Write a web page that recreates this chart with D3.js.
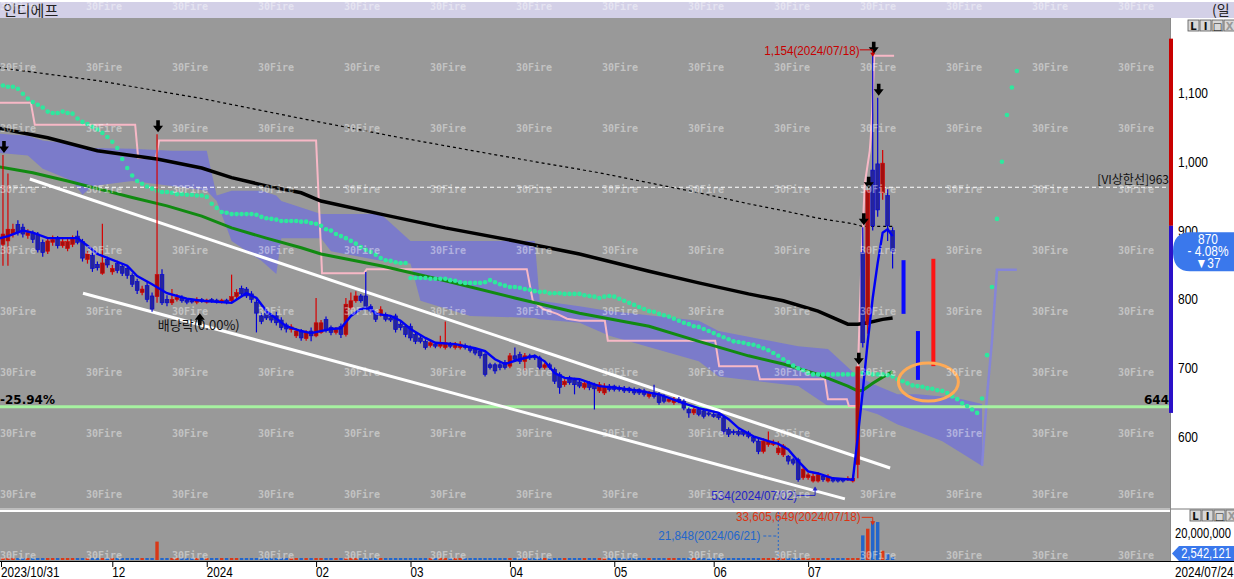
<!DOCTYPE html>
<html><head><meta charset="utf-8">
<script src="https://cdn.jsdelivr.net/npm/d3@7/dist/d3.min.js"></script>
<style>html,body{margin:0;padding:0;background:#fff;overflow:hidden}svg{display:block}</style>
</head><body>
<svg id="c" width="1234" height="579"></svg>
<script>
// ---------------- DATA ----------------
const title = "인디에프";
const tickIdx = [0,23,42,64,83,103,124,144,163];
const tickLab = ["2023/10/31","12","2024","02","03","04","05","06","07"];
const lastDateLabel = "2024/07/24";
const priceTicks = [1100,1000,900,800,700,600];

const opens = [892,880,885,895,909,905,893,897,895,883,870,883,888,878,874,880,892,884,858,864,851,838,858,840,852,848,845,835,826,810,820,805,804,836,800,795,800,803,799,798,796,800,796,800,799,796,799,798,804,816,815,808,796,776,780,776,776,770,763,756,747,754,743,754,747,752,771,759,752,761,749,788,798,805,805,790,780,778,778,773,776,764,761,761,749,744,739,733,735,732,730,735,730,730,733,730,727,725,720,705,705,705,708,703,718,720,710,718,718,715,701,705,698,691,676,686,683,680,672,678,676,667,664,674,674,672,671,671,669,669,667,659,664,662,659,652,650,655,652,640,635,640,638,635,633,633,628,611,608,608,608,606,599,594,579,589,589,577,574,572,567,567,541,541,536,536,543,536,538,538,538,538,536,560,868,764,988,997,955,951,900];
const highs = [900,1010,983,910,915,910,902,900,898,887,890,893,892,890,889,893,900,888,870,868,855,910,862,850,856,852,848,838,830,820,825,810,1040,844,806,815,808,806,802,801,803,802,801,802,801,801,801,836,815,820,818,812,800,780,785,780,782,774,766,764,758,757,755,759,802,770,775,762,760,765,802,810,812,808,840,793,783,790,781,776,779,767,764,765,752,747,742,740,738,747,768,738,738,739,736,733,730,728,723,708,708,710,712,722,730,724,722,721,720,718,708,708,701,694,684,689,686,683,681,681,679,680,678,677,676,675,674,673,672,671,670,667,676,665,662,658,658,658,655,643,643,643,640,637,636,636,631,614,611,611,610,609,602,597,598,608,596,594,590,574,570,570,556,548,548,549,546,546,541,540,540,543,545,702,905,958,1154,1093,1017,960,905];
const lows = [870,849,849,890,893,890,888,882,868,862,866,878,874,875,870,876,880,855,852,840,842,836,846,836,838,834,830,818,808,806,796,782,795,792,790,792,797,795,793,794,793,795,794,795,794,794,793,795,800,805,802,795,752,764,770,766,762,755,752,752,744,740,740,739,745,750,752,748,749,744,746,785,795,795,786,780,767,775,768,767,752,755,745,740,735,736,727,730,729,729,727,729,727,727,727,723,719,714,688,698,692,697,698,700,710,706,697,712,712,698,698,698,677,663,673,676,662,671,669,668,640,664,661,666,666,666,664,664,661,661,659,656,656,647,649,650,647,649,639,628,632,630,627,630,628,625,604,600,603,601,601,598,591,575,576,586,587,574,571,560,559,535,538,538,534,534,535,534,534,534,534,536,534,540,730,750,900,920,945,885,845];
const closes = [876,895,902,902,897,895,897,887,872,868,885,887,878,884,884,888,883,860,866,845,846,853,850,845,842,838,835,822,813,815,800,786,836,795,795,800,803,798,796,797,799,797,799,797,796,799,795,804,810,808,805,800,780,768,773,770,766,759,757,760,754,744,752,747,766,766,756,752,756,749,793,798,805,798,790,783,771,785,771,770,756,759,749,744,739,739,730,737,732,737,737,732,735,735,730,726,722,718,691,701,696,701,701,718,713,710,718,715,715,701,705,701,681,672,681,679,676,674,678,672,670,676,674,669,669,669,667,667,664,664,662,664,659,650,652,655,655,652,642,635,640,633,630,633,630,628,608,604,606,604,604,601,594,579,594,594,591,584,587,565,562,538,553,545,543,545,538,543,536,536,536,540,540,702,737,958,907,930,998,907,870];
const volumes = [600000,900000,1200000,500000,400000,350000,300000,280000,400000,350000,300000,250000,220000,260000,240000,210000,230000,380000,300000,350000,250000,900000,260000,220000,200000,210000,230000,300000,320000,250000,380000,450000,16000000,1600000,500000,400000,300000,250000,200000,180000,170000,160000,150000,170000,160000,150000,140000,600000,350000,300000,250000,220000,500000,300000,250000,200000,220000,260000,200000,180000,190000,200000,180000,210000,700000,400000,300000,220000,200000,210000,900000,500000,400000,300000,600000,300000,250000,280000,220000,200000,300000,220000,240000,260000,230000,200000,250000,180000,170000,200000,450000,180000,170000,160000,150000,170000,180000,200000,400000,250000,200000,180000,170000,350000,300000,220000,250000,180000,160000,220000,170000,160000,300000,350000,220000,180000,260000,170000,160000,150000,280000,200000,200000,150000,130000,120000,110000,120000,130000,110000,120000,130000,180000,200000,150000,110000,120000,100000,180000,220000,150000,130000,140000,100000,90000,110000,350000,200000,120000,100000,90000,110000,150000,300000,250000,280000,120000,21848,200000,180000,150000,500000,300000,250000,300000,200000,150000,180000,120000,100000,110000,130000,150000,1600000,21400000,27200000,33605649,33000000,8000000,5400000,2542121];

// 5-day average (blue), read at sample days
const ma5Idx = [0,2,5,7,10,16,18,20,26,28,31,34,38,41,47,50,52,54,58,61,63,67,69,71,73,75,76,79,81,83,86,88,92,96,98,100,102,105,108,110,112,114,117,121,125,129,133,138,141,145,147,149,152,155,157,159,161,163,165,168,172,173,174,175,176,177,178,179,180];
const ma5Val = [888,892,900,897,889,889,878,866,849,834,822,809,801,798,795,809,802,783,761,754,751,757,758,776,786,787,779,776,769,757,744,737,735,729,725,713,706,713,718,710,693,686,684,674,671,667,662,649,642,635,626,613,601,594,590,582,565,550,547,540,538,601,667,739,802,853,897,902,892];
// green average
const maGIdx = [0,7,14,20,27,34,41,47,54,61,65,77,90,104,117,131,141,151,158,165,171,173,174,176,178,180];
const maGVal = [993,984,972,961,948,936,921,904,889,875,866,849,827,802,780,761,739,718,706,691,674,667,668,678,687,695];
// black thick average
const maKIdx = [0,10,20,32,41,47,54,61,65,77,90,104,117,131,141,151,158,165,171,173,175,178,180];
const maKVal = [1049,1035,1016,1004,991,977,965,955,943,924,904,885,866,841,824,808,798,783,764,764,766,771,773];
// black dotted average
const maDIdx = [0,20,41,61,81,101,121,141,151,158,165,172,174,180];
const maDVal = [1137,1118,1092,1063,1035,1009,984,955,939,929,918,910,906,906];
// pink stepped line
const pinkIdx = [0.4,6.6,7.4,27.6,28.2,31.8,32.4,64,65.2,73.6,74.2,106.4,107.6,109.7,112.5,114.5,117.1,122.1,122.7,144.3,145.1,152.7,153.3,166.4,167,170.8,171.2,172.8,173.4,173.8,174.4,175.4,175.6,175.9,176.1,176.3,180.3];
const pinkVal = [1086,1086,1054,1054,1006,1006,1031,1031,838,838,844,844,798,786,779,772,769,769,740,740,703,703,684,684,655,655,645,645,783,870,968,1016,1035,1074,1114,1154,1154];
// cyan dots (one per day, runs 25 days ahead)
const dots = [1111,1111,1109,1109,1106,1099,1092,1087,1083,1079,1073,1071,1071,1073,1071,1070,1063,1058,1055,1051,1047,1042,1036,1029,1020,1004,991,980,972,968,964,961,958,956,956,955,953,953,952,952,951,951,949,939,933,927,926,924,924,924,924,924,923,920,918,917,916,914,914,914,914,913,913,911,910,907,902,900,895,892,889,885,881,876,872,869,865,860,857,856,854,853,853,831,831,831,831,830,830,830,830,828,827,825,824,824,824,824,825,828,825,822,820,818,818,817,815,814,812,811,811,809,809,809,808,808,808,808,806,805,804,802,804,805,804,801,798,795,792,789,786,783,782,779,777,775,772,769,766,764,761,760,757,754,751,748,745,742,739,738,737,735,734,732,729,726,722,718,713,709,704,700,697,693,691,691,691,691,691,691,691,691,691,693,693,693,691,691,691,690,688,684,681,678,675,674,673,671,670,668,667,664,659,655,649,645,640,635,656,719,818,917,1000,1068,1108,1132];
// cloud (two spans)
const cloudIdx = [0,6,9,15,17,19,27,35,42,44,47,53,56,57,65,67,77,83,85,95,108,109,117,123,141,145,161,167,173,177,181,185,190,194,198];
const cloudTop = [1041,1038,1031,1026,1023,1020,1019,1016,1016,951,958,958,951,943,924,924,924,885,885,885,885,798,790,783,769,754,732,728,688,674,662,662,659,655,648];
const cloudBot = [1013,1009,990,972,952,965,972,965,958,943,885,856,837,889,889,870,856,852,798,776,773,771,766,747,710,688,674,645,642,633,618,608,594,576,558];
const spanIdx = [198,199,200,201,205];
const spanVal = [558,660,740,843,843];
// trend lines [i0,p0,i1,p1]
const trendLines = [[6.4,975,179.5,555],[17.1,809,170.4,510]];
// marks drawn ahead of the last day [index, top, bottom]
const futureBars = [[182.2,857,779],[185.1,754,683],[188.2,859,703]];
const futureColors = ["#0a0aff","#0a0aff","#ff1414"];
const ellipseMark = [187.2,680];
const viLine = 963, baseLine = 644, baseLabel = "-25.94%";
const upperLimit = 1179, prevClose = 907, lowerLimit = 635;
const arrowDays = [1,32,173,174,175,176,177];
const exDivDay = 40, exDivLabel = "배당락(0.00%)";
const highDay = 176, lowDay = 164, minVolDay = 157;
const volTick = 20000000;
const lastInfo = ["870","- 4.08%","▼37"];

// ---------------- CHART ----------------
const W=1234,H=579, PR=1170, PT=18, PB=508, VT=512, VB=561;
const svg=d3.select('#c');
const x=d3.scaleLinear().domain([0,180]).range([-2,892.6]);
const y=d3.scaleLinear().domain([600,1100]).range([437,93]);
const yv=d3.scaleLinear().domain([0,40000000]).range([560,514]);
const fmt=d3.format(',');
const SANS='"Liberation Sans",Arial,sans-serif';
const KR='"Noto Sans CJK KR","Noto Sans",sans-serif';

// narrow text helper: horizontally condensed glyphs (like the bitmap HTS font)
function ntext(g,tx,ty,str,o){
  o=o||{};
  return g.append('text').attr('transform',`translate(${tx},${ty}) scale(${o.sx||0.82},1)`)
    .attr('text-anchor',o.anchor||'start').attr('font-family',o.family||SANS)
    .attr('font-size',o.size||14).attr('font-weight',o.weight||'normal')
    .attr('fill',o.fill||'#000').text(str);
}

const defs=svg.append('defs');
defs.append('clipPath').attr('id','cm').append('rect').attr('x',0).attr('y',PT).attr('width',PR).attr('height',PB-PT);
defs.append('clipPath').attr('id','cv').append('rect').attr('x',0).attr('y',VT).attr('width',PR).attr('height',VB-VT);

svg.append('rect').attr('width',W).attr('height',H).attr('fill','#fff');
svg.append('rect').attr('x',0).attr('y',2).attr('width',W).attr('height',PT-2).attr('fill','#d3d0e7');
svg.append('text').attr('x',3).attr('y',15.5).attr('font-family',KR).attr('font-size',15).attr('fill','#222').text(title);
svg.append('text').attr('x',1212).attr('y',15).attr('font-family',KR).attr('font-size',14).attr('fill','#222').text('(일');
svg.append('rect').attr('x',0).attr('y',PT).attr('width',PR).attr('height',PB-PT).attr('fill','#999999');
svg.append('rect').attr('x',0).attr('y',VT).attr('width',PR).attr('height',VB-VT).attr('fill','#999999');
svg.append('line').attr('x1',0).attr('x2',W).attr('y1',509).attr('y2',509).attr('stroke','#7a7a7a');
svg.append('line').attr('x1',PR+0.5).attr('x2',PR+0.5).attr('y1',PT).attr('y2',VB).attr('stroke','#8a8a8a');

const gm=svg.append('g').attr('clip-path','url(#cm)');
// cloud
gm.append('path').datum(cloudIdx.map((d,k)=>[d,cloudTop[k],cloudBot[k]]))
  .attr('d',d3.area().x(d=>x(d[0])).y0(d=>y(d[2])).y1(d=>y(d[1])))
  .attr('fill','#7b7bca');
gm.append('path').datum(spanIdx.map((d,k)=>[d,spanVal[k]]))
  .attr('d',d3.line().x(d=>x(d[0])).y(d=>y(d[1]))).attr('fill','none').attr('stroke','#8585d8').attr('stroke-width',2.5);
// horizontal lines
gm.append('line').attr('x1',0).attr('x2',PR).attr('y1',y(viLine)).attr('y2',y(viLine)).attr('stroke','#fff').attr('stroke-dasharray','4,3');
gm.append('line').attr('x1',0).attr('x2',PR).attr('y1',y(baseLine)).attr('y2',y(baseLine)).attr('stroke','#a6f2a0').attr('stroke-width',3);
const ln=(I,V)=>d3.line().x((d,k)=>x(I[k])).y((d,k)=>y(V[k]))(V);
gm.append('path').attr('d',ln(pinkIdx,pinkVal)).attr('fill','none').attr('stroke','#f7b8c6').attr('stroke-width',2);
gm.append('path').attr('d',ln(maDIdx,maDVal)).attr('fill','none').attr('stroke','#000').attr('stroke-width',1.2).attr('stroke-dasharray','3,3');
gm.append('path').attr('d',ln(maKIdx,maKVal)).attr('fill','none').attr('stroke','#000').attr('stroke-width',3.5);
gm.append('path').attr('d',ln(maGIdx,maGVal)).attr('fill','none').attr('stroke','#118a11').attr('stroke-width',3);
gm.selectAll('circle.dot').data(dots).join('circle').attr('cx',(d,i)=>x(i)).attr('cy',d=>y(d)).attr('r',2.3).attr('fill','#2ee89e');
trendLines.forEach(t=>gm.append('line').attr('x1',x(t[0])).attr('y1',y(t[1])).attr('x2',x(t[2])).attr('y2',y(t[3])).attr('stroke','#fff').attr('stroke-width',3));
// candles
const cw=3.8;
closes.forEach((c,i)=>{
  const o=opens[i], up=c>=o;
  const sc=up?'#d80000':'#0000d8', fc=up?'#a30e0e':'#24249c';
  gm.append('line').attr('x1',x(i)).attr('x2',x(i)).attr('y1',y(highs[i])).attr('y2',y(lows[i])).attr('stroke',sc).attr('stroke-width',1.2);
  const t=y(Math.max(o,c)), b=y(Math.min(o,c));
  gm.append('rect').attr('x',x(i)-cw/2).attr('y',t).attr('width',cw).attr('height',Math.max(1.2,b-t)).attr('fill',fc).attr('stroke',sc).attr('stroke-width',0.6);
});
gm.append('path').attr('d',ln(ma5Idx,ma5Val)).attr('fill','none').attr('stroke','#0000f5').attr('stroke-width',2.4);
// future marks
futureBars.forEach((f,k)=>gm.append('rect').attr('x',x(f[0])-2).attr('y',y(f[1])).attr('width',4).attr('height',y(f[2])-y(f[1])).attr('fill',futureColors[k]));
gm.append('ellipse').attr('cx',x(ellipseMark[0])).attr('cy',y(ellipseMark[1])).attr('rx',30).attr('ry',19).attr('fill','none').attr('stroke','#ffaa55').attr('stroke-width',3);
// arrows
const downArrow=(cx,tip)=>`M${cx-1.8},${tip-12}h3.6v5.5h3.2l-5,6.5l-5,-6.5h3.2z`;
arrowDays.forEach(i=>gm.append('path').attr('d',downArrow(x(i)+1,y(highs[i])-2)).attr('fill','#000'));
const upArrow=(cx,tip)=>`M${cx},${tip}l5,6.5h-3.2v5.5h-3.6v-5.5h-3.2z`;
gm.append('path').attr('d',upArrow(x(exDivDay)+3,y(lows[exDivDay])+9)).attr('fill','#000');
gm.append('text').attr('x',x(exDivDay)+2).attr('y',330).attr('text-anchor','middle').attr('font-family',KR).attr('font-size',13).attr('fill','#111').text(exDivLabel);
// high / low labels
const hx=x(highDay), hy=y(highs[highDay]);
ntext(gm,hx-13,hy-1,`${fmt(highs[highDay])}(2024/07/18)`,{anchor:'end',size:13,sx:0.9,fill:'#c80000'});
gm.append('path').attr('d',`M${hx-13},${hy-6}H${hx}V${hy}`).attr('fill','none').attr('stroke','#c80000');
gm.append('path').attr('d',`M${hx-2.5},${hy-3}L${hx},${hy+1}L${hx+2.5},${hy-3}z`).attr('fill','#c80000');
const lx=x(lowDay)+2, ly=y(lows[lowDay]);
ntext(gm,lx-18,ly+18,`${lows[lowDay]}(2024/07/02)`,{anchor:'end',size:13,sx:0.9,fill:'#2222c8'});
gm.append('path').attr('d',`M${lx-18},${ly+13}H${lx}V${ly+5}`).attr('fill','none').attr('stroke','#2222c8');
gm.append('path').attr('d',`M${lx-2.5},${ly+8}L${lx},${ly+4}L${lx+2.5},${ly+8}z`).attr('fill','#2222c8');
// level labels
gm.append('text').attr('x',PR-1).attr('y',y(viLine)-3).attr('text-anchor','end').attr('font-family',KR).attr('font-size',12).attr('fill','#111').text(`[VI상한선]${viLine}`);
gm.append('text').attr('x',0).attr('y',y(baseLine)-3).attr('font-family','"DejaVu Sans",sans-serif').attr('font-weight','bold').attr('font-size',12).attr('fill','#000').text(baseLabel);
gm.append('text').attr('x',PR-1).attr('y',y(baseLine)-3).attr('text-anchor','end').attr('font-family','"DejaVu Sans",sans-serif').attr('font-weight','bold').attr('font-size',12).attr('fill','#000').text(baseLine);

// volume
const gv=svg.append('g').attr('clip-path','url(#cv)');
volumes.forEach((v,i)=>{
  const up=closes[i]>=opens[i];
  const t=Math.min(yv(v),yv(0)-2);
  gv.append('rect').attr('x',x(i)-1.7).attr('y',t).attr('width',3.4).attr('height',yv(0)-t).attr('fill',up?'#d93818':'#2266cc');
});
const vx=x(highDay), vy=yv(volumes[highDay]);
ntext(gv,vx-12,vy,`${fmt(volumes[highDay])}(2024/07/18)`,{anchor:'end',size:13,sx:0.9,fill:'#dd3311'});
gv.append('path').attr('d',`M${vx-11},${vy-4}H${vx}V${vy+1}`).attr('fill','none').attr('stroke','#dd3311');
gv.append('path').attr('d',`M${vx-2.5},${vy}L${vx},${vy+4}L${vx+2.5},${vy}z`).attr('fill','#dd3311');
const mx=x(minVolDay);
gv.append('line').attr('x1',mx).attr('x2',mx).attr('y1',VT).attr('y2',VB).attr('stroke','#2266cc').attr('stroke-dasharray','2,2');
ntext(gv,mx-18,540,`${fmt(volumes[minVolDay])}(2024/06/21)`,{anchor:'end',size:13,sx:0.9,fill:'#2266cc'});
gv.append('line').attr('x1',mx-15).attr('x2',mx-2).attr('y1',536).attr('y2',536).attr('stroke','#2266cc').attr('stroke-dasharray','3,2');

// right axis
const ra=svg.append('g');
ra.append('rect').attr('x',PR-1).attr('y',y(upperLimit)).attr('width',4).attr('height',y(prevClose)-y(upperLimit)).attr('fill','#c80000');
ra.append('rect').attr('x',PR-1).attr('y',y(prevClose)).attr('width',4).attr('height',y(lowerLimit)-y(prevClose)).attr('fill','#2a10c8');
priceTicks.forEach(p=>ntext(ra,1178,y(p)+5,fmt(p),{size:15,sx:0.8}));
const by=y(+lastInfo[0]);
ra.append('path').attr('d',`M1173,${by}Q1173,${by-19} 1190,${by-19}H1234V${by+20}H1190Q1173,${by+20} 1173,${by}z`).attr('fill','#3a78ec');
lastInfo.forEach((t,k)=>ntext(ra,1208,by-7+k*12,t,{anchor:'middle',size:14,sx:0.85,fill:'#fff'}));
ntext(ra,1175,yv(volTick)+1,fmt(volTick),{size:14,sx:0.8});
ra.append('path').attr('d',`M1172,${553.5}L1179,546H1234V561H1179z`).attr('fill','#3a78ec');
ntext(ra,1206,558,fmt(volumes[180]),{anchor:'middle',size:14,sx:0.8,fill:'#fff'});
// buttons
const btn=(bx,by2)=>['L','I','□','X'].forEach((t,k)=>{
  ra.append('rect').attr('x',bx+k*12).attr('y',by2).attr('width',11).attr('height',11).attr('fill','#d8d8d8').attr('stroke','#555').attr('stroke-width',0.8);
  ra.append('text').attr('x',bx+k*12+5.5).attr('y',by2+9.5).attr('text-anchor','middle').attr('font-family','"DejaVu Sans",sans-serif').attr('font-size',10).attr('font-weight','bold').attr('fill',k==3?'#999':'#111').text(t);
});
btn(1188,20); btn(1190,510);

// x axis
svg.append('line').attr('x1',0).attr('x2',W).attr('y1',VB+0.5).attr('y2',VB+0.5).attr('stroke','#000');
tickIdx.forEach((t,k)=>{
  const tx=Math.max(1,x(t));
  svg.append('line').attr('x1',tx+0.5).attr('x2',tx+0.5).attr('y1',VB).attr('y2',VB+6).attr('stroke','#000');
  ntext(svg,tx,577,tickLab[k],{size:15,sx:0.78});
});
ntext(svg,1175,577,lastDateLabel,{size:15,sx:0.78});

// watermark (14 columns over the plot panes)
const wm=svg.append('g').attr('font-family','"DejaVu Sans Mono",monospace').attr('font-weight','bold').attr('font-size',10).attr('fill','#fff').attr('fill-opacity',0.42);
d3.range(10).forEach(r=>d3.range(14).forEach(cI=>{
  wm.append('text').attr('x',cI*86).attr('y',6+r*61+4).text('30Fire');
}));
</script>
</body></html>
